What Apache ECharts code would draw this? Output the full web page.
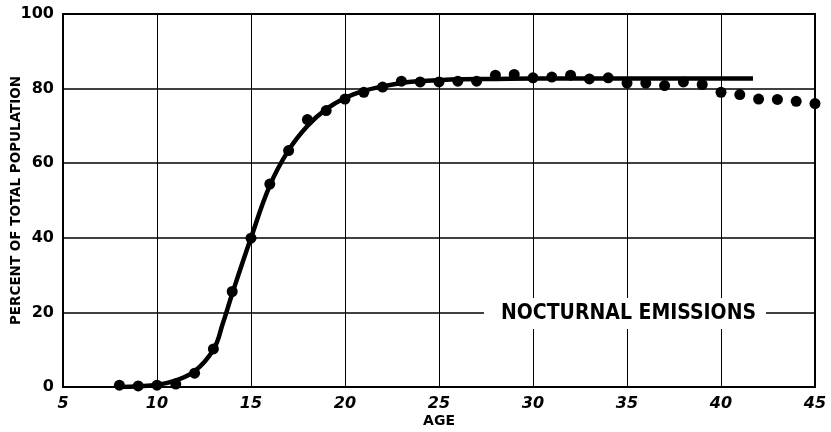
<!DOCTYPE html>
<html>
<head>
<meta charset="utf-8">
<script src="https://cdn.jsdelivr.net/npm/echarts@6/dist/echarts.min.js"></script>
<style>
html,body{margin:0;padding:0;background:#fff;}
#c{width:831px;height:432px;}
</style>
</head>
<body>
<div id="c"></div>
<script>
// Observed data points (age, percent)
const ages = [8,9,10,11,12,13,14,15,16,17,18,19,20,21,22,23,24,25,26,27,28,29,30,31,32,33,34,35,36,37,38,39,40,41,42,43,44,45];
const percents = [0.5,0.3,0.5,0.8,3.7,10.2,25.6,39.9,54.4,63.4,71.7,74.1,77.2,79.0,80.4,82.0,81.8,81.8,82.0,82.0,83.6,83.8,82.9,83.1,83.6,82.6,82.9,81.5,81.5,80.8,81.8,81.1,79.0,78.4,77.2,77.1,76.6,76.0];
// Fitted curve (hand-drawn smooth line)
const curveAges = [8,9,10,11,12,13,13.5,14,15,16,17,18,19,20,21,22,23,24,25,26,28,30,35,40,41.7];
const curveVals = [0,0.2,0.6,1.8,4.2,10,17,25,40,54,63.5,70,74.5,77.5,79.4,80.6,81.5,82,82.3,82.5,82.6,82.7,82.7,82.7,82.7];
const xTicks = [5,10,15,20,25,30,35,40,45];
const yTicks = [0,20,40,60,80,100];
const seriesLabel = 'NOCTURNAL EMISSIONS';

const chart = echarts.init(document.getElementById('c'));
const font = 'DejaVu Sans';
chart.setOption({
  animation:false,
  backgroundColor:'#fff',
  grid:{left:63,right:16,top:14,bottom:45,show:true,borderColor:'#000',borderWidth:2,backgroundColor:'transparent',containLabel:false,outerBoundsMode:'none'},
  xAxis:{
    type:'value',min:xTicks[0],max:xTicks[xTicks.length-1],interval:5,
    name:'AGE',nameLocation:'middle',nameGap:27,nameMoveOverlap:false,
    nameTextStyle:{color:'#000',fontFamily:font,fontWeight:'bold',fontSize:14},
    axisLine:{show:true,lineStyle:{color:'#000',width:2}},
    axisTick:{show:false},
    axisLabel:{color:'#000',fontFamily:font,fontStyle:'italic',fontWeight:'bold',fontSize:16,margin:9},
    splitLine:{show:true,lineStyle:{color:'#000',width:1}}
  },
  yAxis:{
    type:'value',min:yTicks[0],max:yTicks[yTicks.length-1],interval:20,
    name:'PERCENT OF TOTAL POPULATION',nameLocation:'middle',nameGap:40,nameRotate:90,nameMoveOverlap:false,
    nameTextStyle:{color:'#000',fontFamily:font,fontWeight:'bold',fontSize:13.5},
    axisLine:{show:true,lineStyle:{color:'#000',width:2}},
    axisTick:{show:false},
    axisLabel:{color:'#000',fontFamily:font,fontWeight:'bold',fontSize:16,margin:9},
    splitLine:{show:true,lineStyle:{color:'#000',width:1.5}}
  },
  series:[
    {
      type:'line',
      data:curveAges.map((a,i)=>[a,curveVals[i]]),
      smooth:0.4,
      showSymbol:false,
      lineStyle:{color:'#000',width:4.5},
      z:3
    },
    {
      type:'scatter',
      data:ages.map((a,i)=>[a,percents[i]]),
      symbol:'circle',symbolSize:11,
      itemStyle:{color:'#000',opacity:1},
      z:4
    }
  ],
  graphic:[
    {
      type:'text',
      left:484,top:298,z:10,
      style:{
        text:seriesLabel,
        fill:'#000',
        font:'bold 21px "DejaVu Sans Condensed", "DejaVu Sans"',
        backgroundColor:'#fff',
        padding:[5,10,5,17]
      }
    }
  ]
});
</script>
</body>
</html>
